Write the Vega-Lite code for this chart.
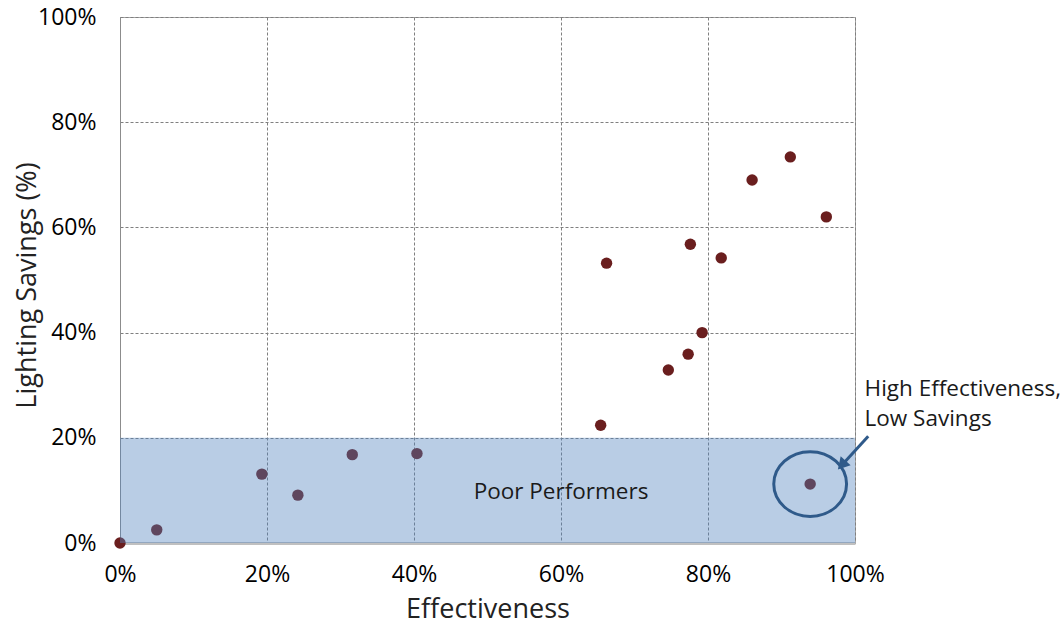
{
  "$schema": "https://vega.github.io/schema/vega-lite/v6.json",
  "autosize": {"type": "none"},
  "width": 735,
  "height": 526,
  "padding": {"left": 120, "top": 17, "right": 208, "bottom": 82},
  "background": "white",
  "config": {
    "font": "Open Sans",
    "view": {"stroke": "#A6A6A6", "strokeWidth": 1},
    "axis": {
      "labelFont": "Open Sans",
      "titleFont": "Open Sans",
      "labelFontSize": 23,
      "titleFontSize": 27,
      "labelColor": "#000000",
      "titleColor": "#222222",
      "titleFontWeight": "normal",
      "labelFlush": false,
      "labelOverlap": false,
      "ticks": false,
      "gridColor": "#7F7F7F",
      "gridDash": [3, 2],
      "gridWidth": 1
    }
  },
  "datasets": {
    "pts": [
      {"eff": 0.0, "sav": 0.0},
      {"eff": 0.050, "sav": 0.025},
      {"eff": 0.193, "sav": 0.131},
      {"eff": 0.242, "sav": 0.091},
      {"eff": 0.316, "sav": 0.168},
      {"eff": 0.404, "sav": 0.170},
      {"eff": 0.939, "sav": 0.112},
      {"eff": 0.654, "sav": 0.224},
      {"eff": 0.662, "sav": 0.532},
      {"eff": 0.746, "sav": 0.329},
      {"eff": 0.773, "sav": 0.359},
      {"eff": 0.792, "sav": 0.400},
      {"eff": 0.776, "sav": 0.568},
      {"eff": 0.818, "sav": 0.542},
      {"eff": 0.860, "sav": 0.690},
      {"eff": 0.912, "sav": 0.734},
      {"eff": 0.961, "sav": 0.620}
    ],
    "band": [{"x0": 0, "x1": 1, "y0": 0, "y1": 0.2, "label": "Poor Performers", "lx": 0.6, "ly": 0.097}],
    "ring": [{"eff": 0.939, "sav": 0.112}],
    "arrow": [{"x0": 1.018, "y0": 0.203, "x1": 0.982, "y1": 0.148}],
    "note": [
      {"x": 1.013, "y": 0.293, "t": "High Effectiveness,"},
      {"x": 1.013, "y": 0.235, "t": "Low Savings"}
    ]
  },
  "layer": [
    {
      "data": {"name": "pts"},
      "mark": {"type": "point", "filled": true, "shape": "circle", "size": 130, "color": "#6A1E1E", "opacity": 1},
      "encoding": {
        "x": {
          "field": "eff", "type": "quantitative",
          "scale": {"domain": [0, 1], "nice": false},
          "axis": {
            "values": [0, 0.2, 0.4, 0.6, 0.8, 1], "format": ".0%",
            "title": "Effectiveness", "labelPadding": 20, "titlePadding": 10,
            "domainColor": "#C0C0C0", "domainWidth": 3
          }
        },
        "y": {
          "field": "sav", "type": "quantitative",
          "scale": {"domain": [0, 1], "nice": false},
          "axis": {
            "values": [0, 0.2, 0.4, 0.6, 0.8, 1], "format": ".0%",
            "title": "Lighting Savings (%)", "labelPadding": 24,
            "titleX": -93, "titleY": 268, "titleAlign": "center", "titleBaseline": "middle", "titleAngle": -90,
            "domainColor": "#8C8C8C", "domainWidth": 1
          }
        }
      }
    },
    {
      "data": {"name": "band"},
      "mark": {"type": "rect", "color": "#4F81BD", "opacity": 0.4},
      "encoding": {
        "x": {"field": "x0", "type": "quantitative"},
        "x2": {"field": "x1"},
        "y": {"field": "y0", "type": "quantitative"},
        "y2": {"field": "y1"}
      }
    },
    {
      "data": {"name": "band"},
      "mark": {"type": "text", "fontSize": 22.5, "color": "#1A1A1A", "font": "Open Sans"},
      "encoding": {
        "x": {"field": "lx", "type": "quantitative"},
        "y": {"field": "ly", "type": "quantitative"},
        "text": {"field": "label"}
      }
    },
    {
      "data": {"name": "ring"},
      "mark": {"type": "point", "shape": "M-1,0A1,0.89 0 1,0 1,0A1,0.89 0 1,0 -1,0Z", "size": 5300, "stroke": "#2F5A8A", "strokeWidth": 3, "filled": false, "opacity": 1},
      "encoding": {
        "x": {"field": "eff", "type": "quantitative"},
        "y": {"field": "sav", "type": "quantitative"}
      }
    },
    {
      "data": {"name": "arrow"},
      "mark": {"type": "rule", "color": "#2F5A8A", "strokeWidth": 3},
      "encoding": {
        "x": {"field": "x0", "type": "quantitative"},
        "y": {"field": "y0", "type": "quantitative"},
        "x2": {"field": "x1"},
        "y2": {"field": "y1"}
      }
    },
    {
      "data": {"name": "arrow"},
      "mark": {"type": "point", "shape": "triangle-up", "filled": true, "size": 180, "color": "#2F5A8A", "angle": 222, "opacity": 1},
      "encoding": {
        "x": {"field": "x1", "type": "quantitative"},
        "y": {"field": "y1", "type": "quantitative"}
      }
    },
    {
      "data": {"name": "note"},
      "mark": {"type": "text", "align": "left", "fontSize": 22.5, "color": "#1A1A1A", "font": "Open Sans"},
      "encoding": {
        "x": {"field": "x", "type": "quantitative"},
        "y": {"field": "y", "type": "quantitative"},
        "text": {"field": "t"}
      }
    }
  ]
}
